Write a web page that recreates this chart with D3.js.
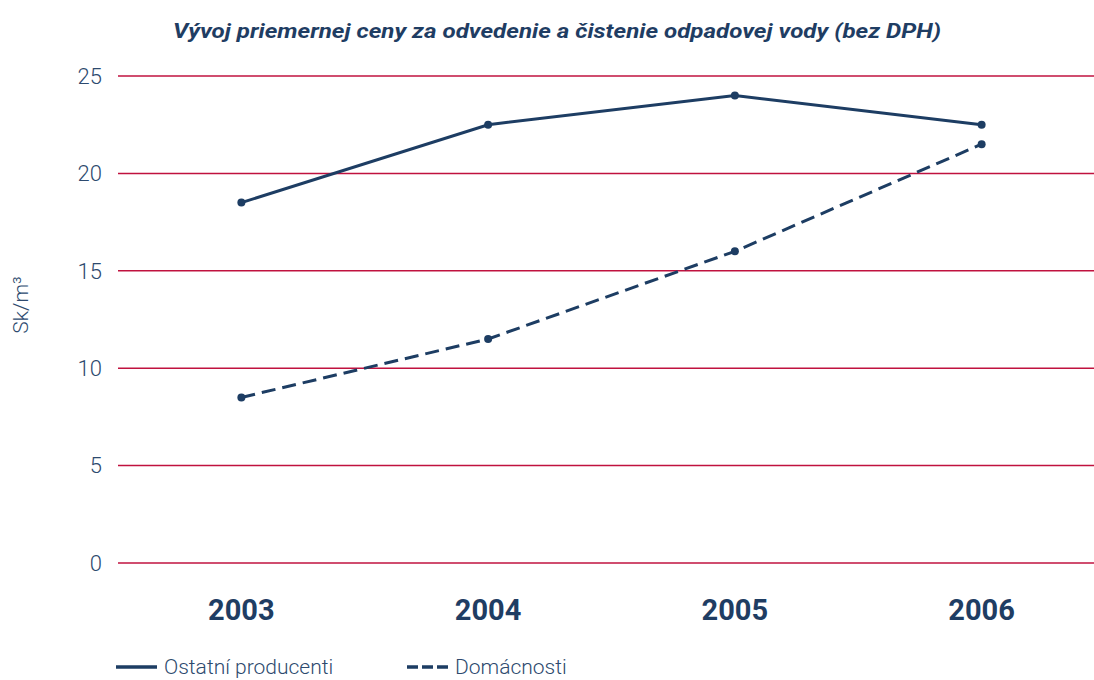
<!DOCTYPE html>
<html>
<head>
<meta charset="utf-8">
<script src="https://cdn.jsdelivr.net/npm/d3@7"></script>
<style>
  body { margin: 0; background: #fff; }
  svg { display: block; }
  .tick-y { font-family: Roboto, "Liberation Sans Narrow", sans-serif; font-size: 22px; font-weight: 300; fill: #2d4a6e; }
  .tick-x { font-family: Roboto, "Liberation Sans Narrow", sans-serif; font-size: 29px; font-weight: 700; fill: #1f3d63; }
  .legend { font-family: Roboto, sans-serif; font-size: 20px; font-weight: 300; fill: #2d4a6e; }
</style>
</head>
<body>
<svg id="chart" width="1094" height="680"></svg>
<script>
var years = ["2003", "2004", "2005", "2006"];
var ostatni = [18.5, 22.5, 24, 22.5];
var domacnosti = [8.5, 11.5, 16, 21.5];
var yTicks = [0, 5, 10, 15, 20, 25];
var seriesNames = ["Ostatní producenti", "Domácnosti"];

var svg = d3.select("#chart");
var lineColor = "#1d3d63";
var gridColor = "#c0123f";

var x = d3.scaleBand().domain(years).range([118, 1105]);
var y = d3.scaleLinear().domain([0, 25]).range([563, 76]);

// title
svg.append("text")
    .attr("x", 557).attr("y", 38)
    .attr("text-anchor", "middle")
    .attr("textLength", 768)
    .attr("lengthAdjust", "spacingAndGlyphs")
    .style("font-family", "Roboto, sans-serif")
    .style("font-size", "21px")
    .style("font-weight", "700")
    .style("font-style", "italic")
    .style("fill", "#1f3d63")
    .text("Vývoj priemernej ceny za odvedenie a čistenie odpadovej vody (bez DPH)");

// grid lines
svg.append("g").selectAll("line")
    .data(yTicks)
    .enter().append("line")
    .attr("x1", 118).attr("x2", 1094)
    .attr("y1", function (d) { return y(d); })
    .attr("y2", function (d) { return y(d); })
    .attr("stroke", gridColor)
    .attr("stroke-width", 1.5);

// y tick labels
svg.append("g").selectAll("text")
    .data(yTicks)
    .enter().append("text")
    .attr("class", "tick-y")
    .attr("x", 102)
    .attr("y", function (d) { return y(d); })
    .attr("dy", "0.35em")
    .attr("text-anchor", "end")
    .text(function (d) { return d; });

// y axis title
svg.append("text")
    .attr("class", "tick-y")
    .attr("transform", "translate(21,305) rotate(-90)")
    .attr("text-anchor", "middle")
    .attr("dy", "0.35em")
    .style("font-size", "21px")
    .text("Sk/m³");

// x tick labels
svg.append("g").selectAll("text")
    .data(years)
    .enter().append("text")
    .attr("class", "tick-x")
    .attr("x", function (d) { return x(d) + x.bandwidth() / 2; })
    .attr("y", 620)
    .attr("text-anchor", "middle")
    .text(function (d) { return d; });

var line = d3.line()
    .x(function (d, i) { return x(years[i]) + x.bandwidth() / 2; })
    .y(function (d) { return y(d); });

function drawSeries(values, dash) {
    svg.append("path")
        .datum(values)
        .attr("fill", "none")
        .attr("stroke", lineColor)
        .attr("stroke-width", 3)
        .attr("stroke-dasharray", dash)
        .attr("d", line);
    svg.append("g").selectAll("circle")
        .data(values)
        .enter().append("circle")
        .attr("cx", function (d, i) { return x(years[i]) + x.bandwidth() / 2; })
        .attr("cy", function (d) { return y(d); })
        .attr("r", 4)
        .attr("fill", lineColor);
}
drawSeries(ostatni, null);
drawSeries(domacnosti, "14,7");

// legend
var legend = svg.append("g");
var legendItems = [
    { name: seriesNames[0], x: 116, dash: null },
    { name: seriesNames[1], x: 407, dash: "11,4" }
];
legendItems.forEach(function (item) {
    legend.append("line")
        .attr("x1", item.x).attr("x2", item.x + 41)
        .attr("y1", 667).attr("y2", 667)
        .attr("stroke", lineColor)
        .attr("stroke-width", 3.5)
        .attr("stroke-dasharray", item.dash);
    legend.append("text")
        .attr("class", "legend")
        .attr("x", item.x + 48)
        .attr("y", 667)
        .attr("dy", "0.35em")
        .style("font-size", "21px")
        .text(item.name);
});
</script>
</body>
</html>
